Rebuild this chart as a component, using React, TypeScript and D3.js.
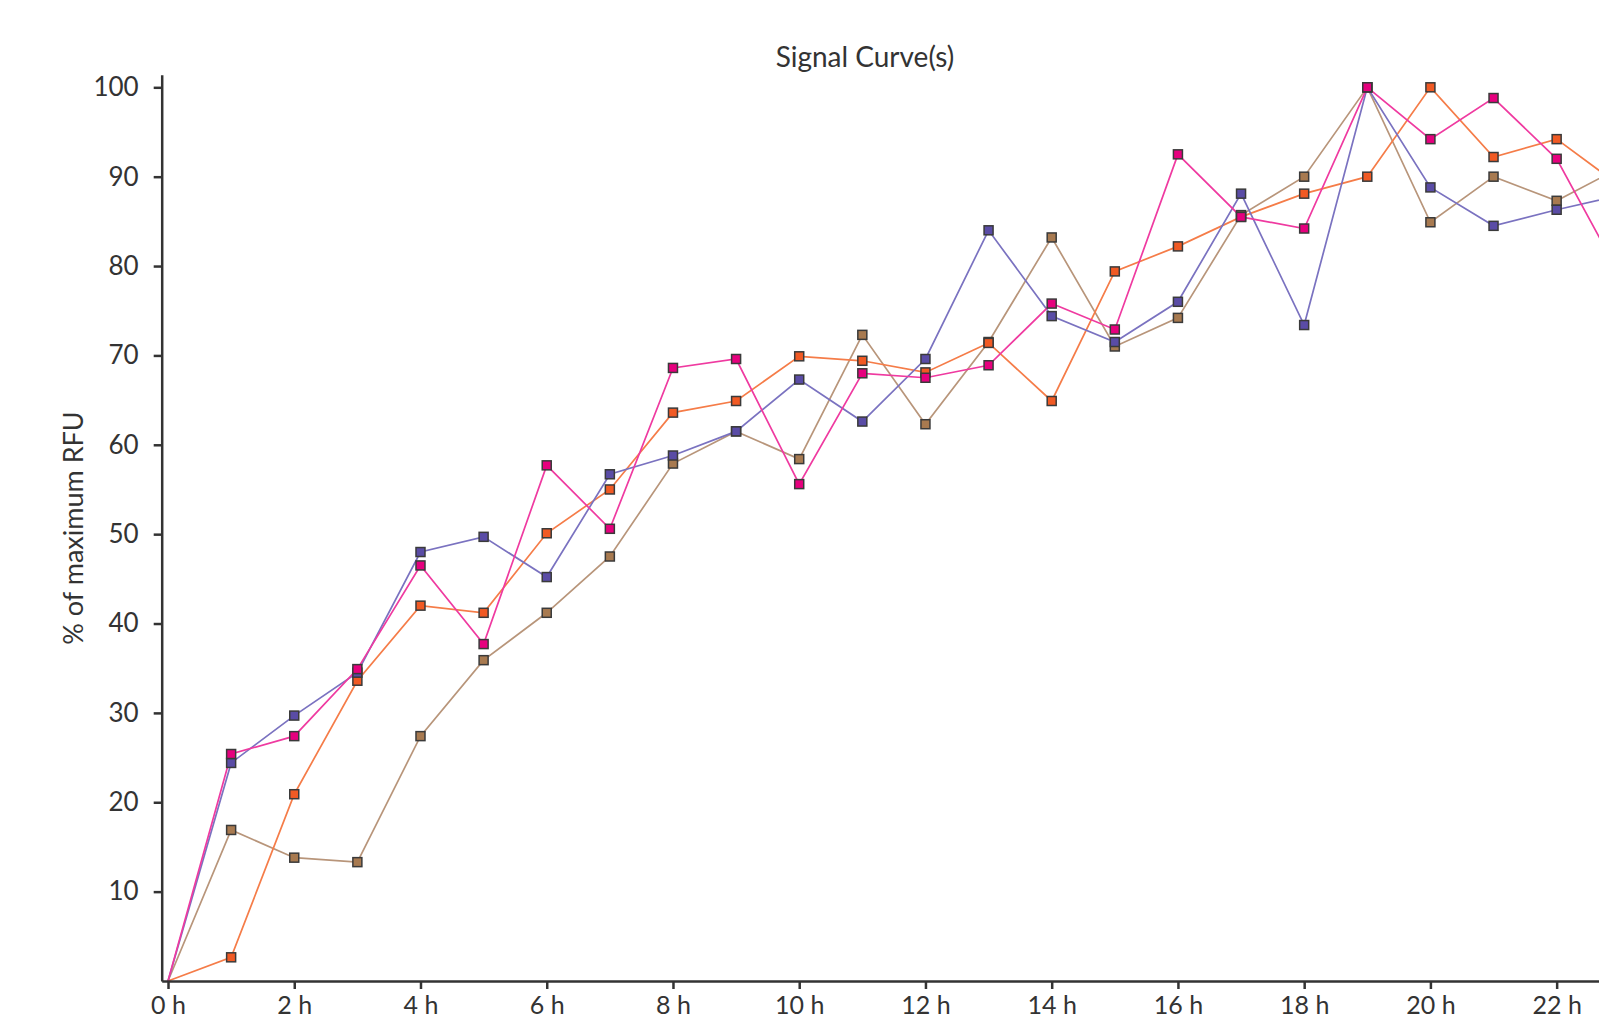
import React, { useRef, useEffect } from "react";
import * as d3 from "d3";

// hours 0..23
const hours = d3.range(0, 24);

const purple = [0, 24.4, 29.7, 34.5, 48.0, 49.7, 45.2, 56.7, 58.8, 61.5, 67.3, 62.6, 69.6, 84.0, 74.4, 71.5, 76.0, 88.1, 73.4, 100, 88.8, 84.5, 86.3, 87.9];
const magenta = [0, 25.4, 27.4, 34.9, 46.5, 37.7, 57.7, 50.6, 68.6, 69.6, 55.6, 68.0, 67.5, 68.9, 75.8, 72.9, 92.5, 85.5, 84.2, 100, 94.2, 98.8, 92.0, 79.0];
const orange = [0, 2.65, 20.9, 33.6, 42.0, 41.2, 50.1, 55.0, 63.6, 64.9, 69.9, 69.4, 68.1, 71.4, 64.9, 79.4, 82.2, 85.5, 88.1, 90.0, 100, 92.2, 94.2, 89.0];
const brown = [0, 16.9, 13.8, 13.3, 27.4, 35.9, 41.2, 47.5, 57.9, 61.5, 58.4, 72.3, 62.3, 71.5, 83.2, 71.0, 74.2, 85.7, 90.0, 100, 84.9, 90.0, 87.3, 91.0];

const yTicks = [10, 20, 30, 40, 50, 60, 70, 80, 90, 100];
const xTicks = [0, 2, 4, 6, 8, 10, 12, 14, 16, 18, 20, 22];

// drawing order: first is bottom
const series = [
  { name: "brown", values: brown, fill: "#a87a50", line: "#b8957a" },
  { name: "orange", values: orange, fill: "#f15a24", line: "#f57c48" },
  { name: "purple", values: purple, fill: "#5a4ca6", line: "#7a72c0" },
  { name: "magenta", values: magenta, fill: "#e6007e", line: "#ef3aa0" },
];

const W = 1599;
const H = 1020;
const FONT = "Lato, 'Open Sans', sans-serif";

const Chart = () => {
  const svgRef = useRef<SVGSVGElement>(null);

  useEffect(() => {
    const svg = d3.select(svgRef.current);
    svg.selectAll("*").remove();

    const x = d3.scaleLinear().domain([-0.1, 25]).range([161.7, 161.7 + 25.1 * 63.12]);
    const y = d3.scaleLinear().domain([0, 101.4]).range([981, 74.8]);

    // title
    svg.append("text")
      .attr("x", 865)
      .attr("y", 67)
      .attr("text-anchor", "middle")
      .style("font-family", FONT)
      .style("font-size", "28px")
      .style("fill", "#333")
      .text("Signal Curve(s)");

    // y label
    svg.append("text")
      .attr("transform", `translate(83,528) rotate(-90)`)
      .attr("text-anchor", "middle")
      .style("font-family", FONT)
      .style("font-size", "27px")
      .style("fill", "#333")
      .text("% of maximum RFU");

    const line = d3.line<number>()
      .x((_, i) => x(hours[i]))
      .y(d => y(d));

    const plot = svg.append("g");

    series.forEach(s => {
      plot.append("path")
        .datum(s.values)
        .attr("d", line)
        .attr("fill", "none")
        .attr("stroke", s.line)
        .attr("stroke-width", 1.7);
    });

    const size = 9;
    series.forEach(s => {
      plot.append("g")
        .selectAll("rect")
        .data(s.values.map((v, i) => ({ h: hours[i], v })).filter(d => d.h > 0))
        .enter()
        .append("rect")
        .attr("x", d => x(d.h) - size / 2)
        .attr("y", d => y(d.v) - size / 2)
        .attr("width", size)
        .attr("height", size)
        .attr("fill", s.fill)
        .attr("stroke", "#3a3a3a")
        .attr("stroke-width", 1.5);
    });

    // y axis
    const yAxis = svg.append("g")
      .attr("transform", `translate(${x(-0.1)},0)`)
      .call(d3.axisLeft(y).tickValues(yTicks).tickSize(8).tickPadding(15).tickSizeOuter(0));
    yAxis.select(".domain").attr("stroke", "#333").attr("stroke-width", 2.5);
    yAxis.selectAll(".tick line").attr("stroke", "#333").attr("stroke-width", 2.5);
    yAxis.selectAll(".tick text")
      .style("font-family", FONT)
      .style("font-size", "26px")
      .style("fill", "#333");

    // x axis
    const xAxis = svg.append("g")
      .attr("transform", `translate(0,${y(0)})`)
      .call(d3.axisBottom(x).tickValues(xTicks).tickSize(8).tickPadding(7).tickSizeOuter(0)
        .tickFormat(d => `${d} h`));
    xAxis.select(".domain").attr("stroke", "#333").attr("stroke-width", 2.5);
    xAxis.selectAll(".tick line").attr("stroke", "#333").attr("stroke-width", 2.5);
    xAxis.selectAll(".tick text")
      .style("font-family", FONT)
      .style("font-size", "25px")
      .style("fill", "#333");
  }, []);

  return (
    <svg
      ref={svgRef}
      width={W}
      height={H}
      style={{ position: "absolute", left: 0, top: 0, background: "#fff" }}
    />
  );
};

export default function App() {
  return <Chart />;
}
